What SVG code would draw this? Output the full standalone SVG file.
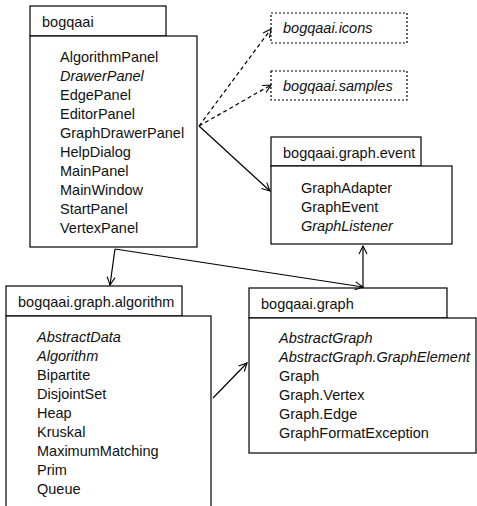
<svg xmlns="http://www.w3.org/2000/svg" width="477" height="506" viewBox="0 0 477 506">
<defs>
<style>
.box{fill:#fff;stroke:#000;stroke-width:1.2}
.dot{fill:#fff;stroke:#000;stroke-width:1.2;stroke-dasharray:2 2}
.t{font-family:"Liberation Sans",Arial,sans-serif;font-size:14.5px;fill:#111}
.i{font-style:italic}
.ln{fill:none;stroke:#000;stroke-width:1.2}
.dl{fill:none;stroke:#000;stroke-width:1.2;stroke-dasharray:4 3}
</style>
<marker id="ah" viewBox="0 0 10 10" refX="9" refY="5" markerWidth="10" markerHeight="10" markerUnits="userSpaceOnUse" orient="auto">
<path d="M1,1 L9,5 L1,9" fill="none" stroke="#000" stroke-width="1.1"/>
</marker>
</defs>
<rect width="477" height="506" fill="#fff"/>
<g id="bogqaai">
<rect class="box" x="30" y="6" width="136" height="30"/>
<rect class="box" x="30" y="36" width="167" height="211"/>
<text class="t" x="42" y="27">bogqaai</text>
<text class="t" x="60" y="62">AlgorithmPanel</text>
<text class="t i" x="60" y="81">DrawerPanel</text>
<text class="t" x="60" y="100">EdgePanel</text>
<text class="t" x="60" y="119">EditorPanel</text>
<text class="t" x="60" y="138">GraphDrawerPanel</text>
<text class="t" x="60" y="157">HelpDialog</text>
<text class="t" x="60" y="176">MainPanel</text>
<text class="t" x="60" y="195">MainWindow</text>
<text class="t" x="60" y="214">StartPanel</text>
<text class="t" x="60" y="233">VertexPanel</text>
</g>
<g id="icons">
<rect class="dot" x="271" y="13" width="136" height="30"/>
<text class="t i" x="283" y="33">bogqaai.icons</text>
</g>
<g id="samples">
<rect class="dot" x="271" y="71" width="136" height="29"/>
<text class="t i" x="283" y="91">bogqaai.samples</text>
</g>
<g id="event">
<rect class="box" x="271" y="137" width="150" height="29"/>
<rect class="box" x="271" y="166" width="181" height="78"/>
<text class="t" x="283" y="158">bogqaai.graph.event</text>
<text class="t" x="301" y="193">GraphAdapter</text>
<text class="t" x="301" y="212">GraphEvent</text>
<text class="t i" x="301" y="231">GraphListener</text>
</g>
<g id="algorithm">
<rect class="box" x="6" y="286" width="176" height="30"/>
<rect class="box" x="6" y="316" width="205" height="200"/>
<text class="t" x="18" y="307">bogqaai.graph.algorithm</text>
<text class="t i" x="37" y="342">AbstractData</text>
<text class="t i" x="37" y="361">Algorithm</text>
<text class="t" x="37" y="380">Bipartite</text>
<text class="t" x="37" y="399">DisjointSet</text>
<text class="t" x="37" y="418">Heap</text>
<text class="t" x="37" y="437">Kruskal</text>
<text class="t" x="37" y="456">MaximumMatching</text>
<text class="t" x="37" y="475">Prim</text>
<text class="t" x="37" y="494">Queue</text>
</g>
<g id="graph">
<rect class="box" x="249" y="288" width="198" height="30"/>
<rect class="box" x="249" y="318" width="227" height="135"/>
<text class="t" x="261" y="309">bogqaai.graph</text>
<text class="t i" x="279" y="343">AbstractGraph</text>
<text class="t i" x="279" y="362">AbstractGraph.GraphElement</text>
<text class="t" x="279" y="381">Graph</text>
<text class="t" x="279" y="400">Graph.Vertex</text>
<text class="t" x="279" y="419">Graph.Edge</text>
<text class="t" x="279" y="438">GraphFormatException</text>
</g>
<g id="connectors">
<path class="dl" d="M199,126 L271,29" marker-end="url(#ah)"/>
<path class="dl" d="M199,126 L271,85" marker-end="url(#ah)"/>
<path class="ln" d="M199,126 L270,191" marker-end="url(#ah)"/>
<path class="ln" d="M115,249 L110,285" marker-end="url(#ah)"/>
<path class="ln" d="M115,249 L363,287" marker-end="url(#ah)"/>
<path class="ln" d="M363,288 L363,246" marker-end="url(#ah)"/>
<path class="ln" d="M213,398 L247,363" marker-end="url(#ah)"/>
</g>
</svg>
